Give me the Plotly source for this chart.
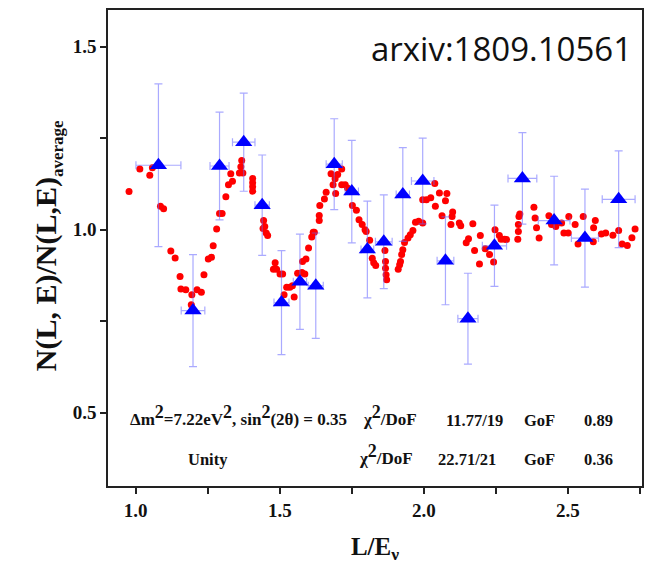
import plotly.graph_objects as go

# Red points (model / smoothed data)
red_x = [0.977, 1.0145, 1.049, 1.058, 1.086, 1.097, 1.122, 1.137, 1.154, 1.157, 1.174, 1.195, 1.193,
         1.213, 1.228, 1.237, 1.252, 1.263, 1.269, 1.281, 1.291, 1.300, 1.313, 1.322, 1.336, 1.330,
         1.360, 1.372, 1.365, 1.368, 1.406, 1.406, 1.406, 1.406, 1.444, 1.448, 1.442, 1.453, 1.458,
         1.484, 1.478, 1.489, 1.501, 1.510, 1.524, 1.515, 1.535, 1.544, 1.550, 1.562, 1.577, 1.587,
         1.579, 1.591, 1.600, 1.611, 1.616, 1.620, 1.637, 1.637, 1.639, 1.655, 1.661, 1.678, 1.685,
         1.694, 1.692, 1.701, 1.715, 1.715, 1.727, 1.735, 1.752, 1.766, 1.775, 1.786, 1.796, 1.800,
         1.812, 1.821, 1.826, 1.833, 1.865, 1.867, 1.867, 1.869, 1.871, 1.911, 1.916, 1.919, 1.923,
         1.927, 1.933, 1.945, 1.953, 1.962, 1.971, 1.982, 1.996, 1.996, 2.009, 2.024, 2.040, 2.038,
         2.054, 2.080, 2.075, 2.063, 2.100, 2.098, 2.094, 2.123, 2.128, 2.155, 2.147, 2.170, 2.176,
         2.196, 2.193, 2.213, 2.228, 2.242, 2.247, 2.262, 2.268, 2.280, 2.287, 2.326, 2.328, 2.328,
         2.330, 2.333, 2.382, 2.386, 2.391, 2.400, 2.434, 2.443, 2.458, 2.478, 2.486, 2.501, 2.503,
         2.525, 2.535, 2.553, 2.588, 2.589, 2.595, 2.616, 2.631, 2.656, 2.676, 2.688, 2.706, 2.722,
         2.733]
red_y = [1.104, 1.166, 1.149, 1.169, 1.064, 1.057, 0.942, 0.923, 0.872, 0.838, 0.836, 0.822, 0.795,
         0.836, 0.829, 0.877, 0.920, 0.925, 0.956, 1.002, 1.044, 1.044, 1.090, 1.123, 1.132, 1.153,
         1.155, 1.155, 1.172, 1.189, 1.140, 1.128, 1.117, 1.105, 1.025, 1.009, 1.003, 0.991, 0.984,
         0.910, 0.892, 0.892, 0.879, 0.879, 0.843, 0.822, 0.843, 0.847, 0.816, 0.881, 0.883, 0.879,
         0.913, 0.920, 0.950, 0.980, 0.993, 0.993, 1.025, 1.039, 1.066, 1.084, 1.102, 1.153, 1.123,
         1.099, 1.139, 1.151, 1.166, 1.123, 1.123, 1.114, 1.066, 1.053, 1.027, 1.014, 1.000, 0.995,
         0.971, 0.922, 0.910, 0.902, 0.943, 0.913, 0.895, 0.877, 0.863, 0.892, 0.904, 0.913, 0.932,
         0.945, 0.965, 0.977, 0.986, 0.998, 1.020, 1.023, 1.018, 1.082, 1.082, 1.087, 1.064, 1.126,
         1.100, 1.099, 1.079, 1.038, 1.048, 1.036, 1.014, 1.018, 1.011, 0.975, 0.964, 1.016, 0.943,
         0.984, 0.906, 0.948, 0.932, 0.912, 1.000, 0.984, 0.974, 0.974, 0.973, 0.974, 0.995, 1.014,
         1.036, 1.043, 1.061, 1.032, 1.005, 0.977, 1.038, 1.014, 1.009, 1.018, 0.991, 0.991, 1.036,
         1.014, 0.961, 1.036, 0.967, 1.005, 1.025, 0.988, 0.991, 0.985, 0.998, 0.961, 0.957, 0.978,
         1.002]

# Blue triangles (binned data) with errors
blue_x = [1.079, 1.199, 1.291, 1.375, 1.439, 1.506, 1.570, 1.625, 1.689, 1.750, 1.804, 1.861,
          1.927, 1.996, 2.075, 2.153, 2.245, 2.342, 2.452, 2.559, 2.676]
blue_y = [1.176, 0.779, 1.174, 1.239, 1.067, 0.801, 0.858, 0.847, 1.179, 1.104, 0.946, 0.967,
          1.096, 1.133, 0.915, 0.757, 0.956, 1.140, 1.025, 0.977, 1.083]
blue_yerr = [0.222, 0.153, 0.147, 0.134, 0.137, 0.142, 0.130, 0.144, 0.124, 0.140, 0.132, 0.128,
             0.128, 0.117, 0.120, 0.124, 0.111, 0.125, 0.121, 0.134, 0.132]
blue_xerr = [0.078, 0.041, 0.033, 0.039, 0.025, 0.026, 0.023, 0.026, 0.028, 0.023, 0.022, 0.029,
             0.023, 0.039, 0.029, 0.035, 0.042, 0.050, 0.055, 0.047, 0.057]

x_ticks = [1.0, 1.5, 2.0, 2.5]
y_ticks = [0.5, 1.0, 1.5]

SERIF = "Liberation Serif"
fig = go.Figure()
fig.add_trace(go.Scatter(
    x=red_x, y=red_y, mode="markers",
    marker=dict(color="#ff0000", size=7, symbol="circle", line=dict(width=0)),
    showlegend=False))
eb = dict(type="data", color="rgba(100,100,255,0.55)", thickness=1.2, width=4)
fig.add_trace(go.Scatter(
    x=blue_x, y=blue_y, mode="markers",
    marker=dict(color="#0000ff", size=15, symbol="triangle-up", line=dict(width=0)),
    error_y=dict(array=blue_yerr, **eb),
    error_x=dict(array=blue_xerr, **eb),
    showlegend=False))

axis_common = dict(showline=True, linecolor="#222", linewidth=1.5, mirror=True,
                   ticks="outside", ticklen=6, tickwidth=1.5, tickcolor="#222",
                   showgrid=False, zeroline=False,
                   tickfont=dict(family=SERIF, size=19, color="#111", weight="bold"))
fig.update_xaxes(range=[0.904, 2.757], tickvals=x_ticks, ticktext=[f"{v:.1f}" for v in x_ticks],
                 minor=dict(dtick=0.25, tick0=0, ticks="outside", ticklen=6, tickwidth=1.5, tickcolor="#222"),
                 title=dict(text="L/E<sub>ν</sub>", font=dict(family=SERIF, size=25, color="#111", weight="bold"),
                            standoff=18),
                 **axis_common)
fig.update_yaxes(range=[0.3, 1.6], tickvals=y_ticks, ticktext=[f"{v:.1f}" for v in y_ticks],
                 minor=dict(dtick=0.25, tick0=0, ticks="outside", ticklen=6, tickwidth=1.5, tickcolor="#222"),
                 **axis_common)

def px_x(p):
    return (p - 108) / 536

def px_y(p):
    return (486 - p) / 476

# y-axis title as rotated annotation
fig.add_annotation(text="N(L, E)/N(L,E)<sub><span style='font-size:17px'>average</span></sub>",
                   x=px_x(47), y=px_y(246),
                   xref="paper", yref="paper", xanchor="center", yanchor="middle", textangle=-90,
                   showarrow=False, font=dict(family=SERIF, size=30, color="#111", weight="bold"))

S2 = "<sup><span style='font-size:18px'>2</span></sup>"
def ann(text, xp, yp, anchor="left", size=16.5):
    fig.add_annotation(text=text, x=px_x(xp), y=px_y(yp), xref="paper", yref="paper",
                       xanchor=anchor, yanchor="middle", showarrow=False,
                       font=dict(family=SERIF, size=size, color="#111", weight="bold"))

ann(f"Δm{S2}=7.22eV{S2}, sin{S2}(2θ) = 0.35", 128, 415, size=17)
ann(f"χ{S2}/DoF", 362, 415, size=17)
ann("11.77/19", 445, 420)
ann("GoF", 524, 420)
ann("0.89", 584, 420)
ann("Unity", 208, 459, "center")
ann(f"χ{S2}/DoF", 358, 454, size=17)
ann("22.71/21", 437, 459)
ann("GoF", 524, 459)
ann("0.36", 584, 459)

fig.add_annotation(text="arxiv:1809.10561", x=px_x(636), y=px_y(48), xref="paper", yref="paper",
                   xanchor="right", yanchor="middle", showarrow=False,
                   font=dict(family="Open Sans", size=33, color="#111"))

fig.update_layout(width=645, height=579, margin=dict(l=108, r=1, t=10, b=93),
                  plot_bgcolor="white", paper_bgcolor="white")
fig.write_html("out.html")
